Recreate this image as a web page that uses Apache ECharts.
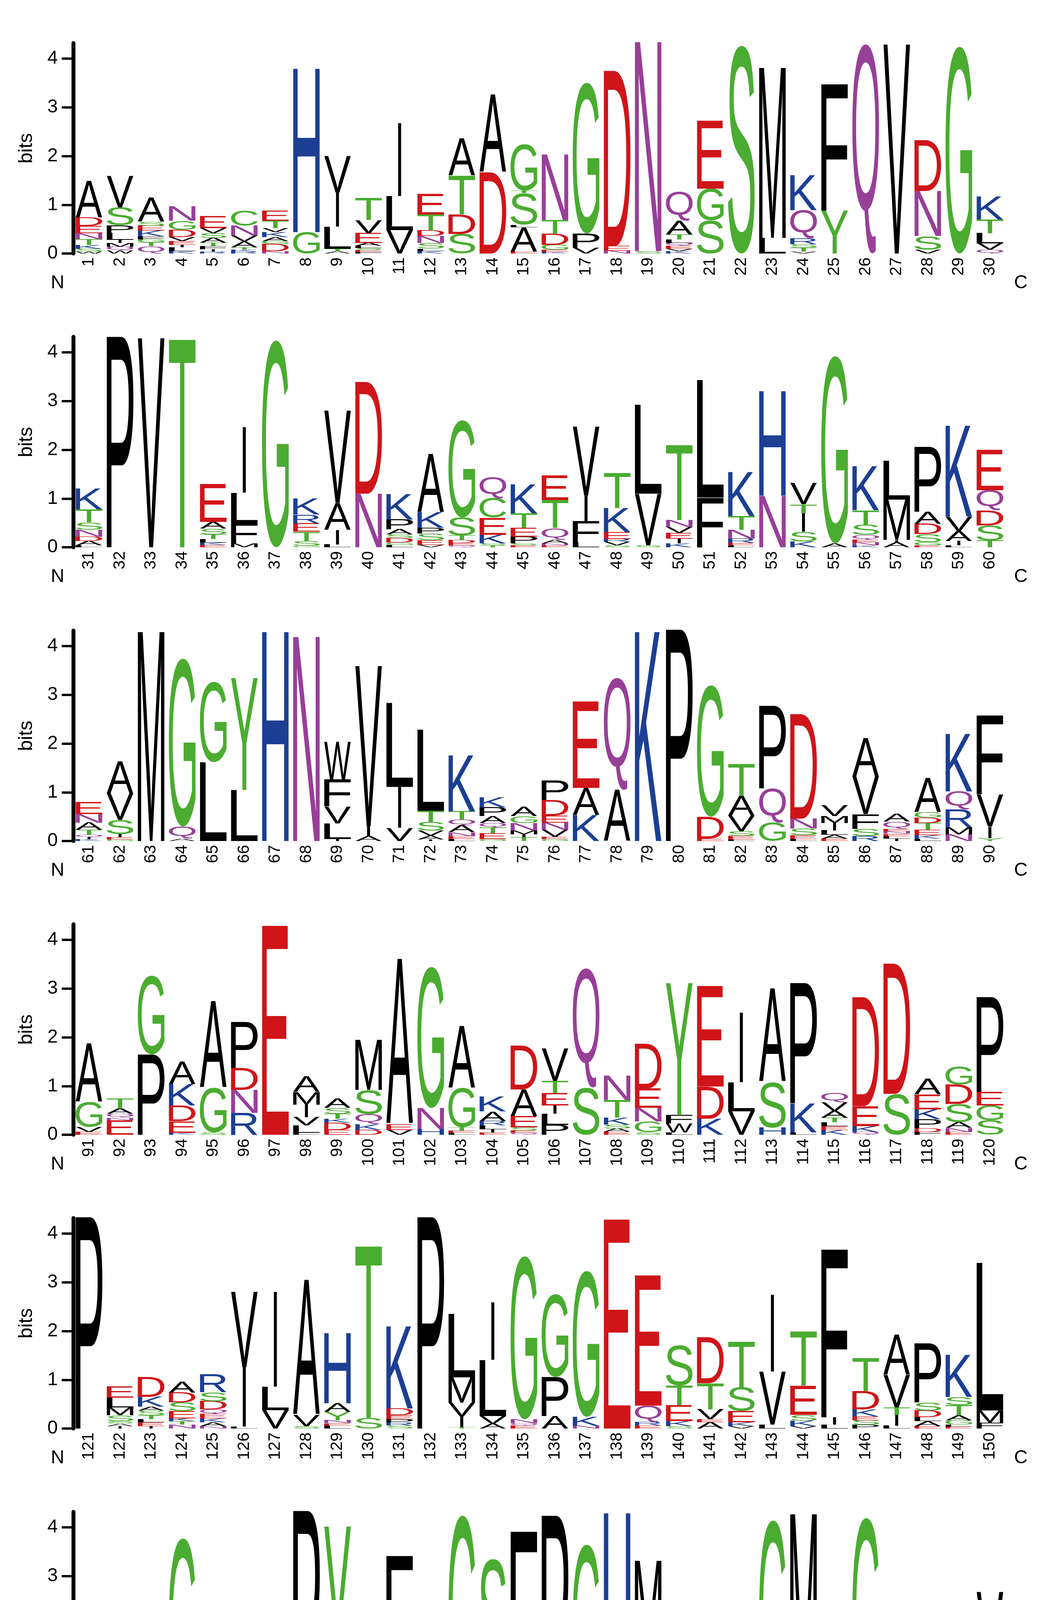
<!DOCTYPE html>
<html><head><meta charset="utf-8">
<script src="https://cdn.jsdelivr.net/npm/echarts@6/dist/echarts.min.js"></script>
<style>html,body{margin:0;padding:0;background:#fff}#c{width:2710px;height:5359px}</style>
</head><body><div id="c"></div>
<script>
// Each position: letters from bottom to top, "Letter" + height in bits
const row1 = ["W.04 S.06 K.08 T.12 N.12 E.15 D.17 A.75","W.06 Q.08 M.08 I.06 L.14 P.16 S.37 V.65","Q.15 T.08 G.06 F.06 K.12 E.1 S.08 A.5","K.05 L.08 I.05 E.08 V.08 D.15 G.18 N.3","R.04 I.05 F.06 T.07 A.1 S.1 V.1 E.25","R.04 K.04 T.05 A.12 V.12 N.2 C.3","N.05 D.15 G.06 A.08 K.1 V.08 T.15 E.2","G.44 H3.36","A.05 T.05 L.45 I.7 V.75","F.03 E.04 S.04 L.05 A.06 E.2 V.27 T.45","V.48 L.7 I1.5","K.05 L.05 S.12 N.14 D.12 T.32 E.42","S.4 D.4 T.8 A.77","D1.67 A1.6","E.04 A.5 L.05 S.65 T.05 G.95","K.03 E.05 G.1 D.23 T.28 N1.35","V.12 P.29 G3.1","N.06 E.1 D3.6","S.05 N4.3","K.05 V.05 E.06 Q.06 L.07 T.1 A.28 Q.6","S.68 G.65 E1.4","S4.3","L.32 M3.5","V.04 T.08 S.07 R.12 Q.58 K.72","Y.88 F2.6","Q4.3","V4.3","V.08 S.28 N.92 D1.05","G4.25","Q.08 V.13 L.21 T.28 K.47"];
const row2 = ["L.04 A.09 D.09 N.14 S.15 T.27 K.43","P4.33","V4.3","T4.3","E.05 K.05 L.07 T.09 S.12 A.14 E.78","M.08 F.41 L.63 I1.35","G4.25","G.03 S.09 T.2 E.17 R.18 K.33","L.06 I.3 A.55 V1.9","N1.1 D2.3","L.05 G.05 D.09 S.07 A.11 P.2 K.52","V.05 E.09 S.14 P.12 K.32 A1.2","Q.04 E.05 D.06 T.09 S.37 G2.0","T.04 S.04 K.18 E.35 C.4 Q.43","E.04 S.04 P.14 E.18 T.3 K.6","E.04 N.04 A.07 Q.24 T.58 E.5","L.1 F.44 I.52 V1.42","S.04 V.07 R.06 E.14 K.49 T.72","S.04 V1.06 L1.83","K.08 I.1 E.12 V.12 N.14 T1.55","F1.02 L2.42","L.04 E.05 R.09 N.18 T.28 K.9","N1.06 H2.15","K.12 S.2 I.38 T.18 V.44","A.08 G3.85","K.04 N.06 E.06 Q.09 S.21 T.3 K.9","A.1 I.05 M.83 L.8","E.04 G.06 S.17 D.21 A.25 P1.33","L.04 I.09 A.21 V.29 K1.87","T.14 S.31 D.31 Q.41 E.83"];
const row3 = ["K.04 I.04 Q.05 T.1 A.15 N.17 E.25","G.03 E.05 I.06 S.29 V.54 A.66","M4.3","A.05 Q.25 G3.45","L1.62 G1.65","L1.05 Y2.3","H4.3","N4.2","I.04 L.32 V.35 F.55 W.78","A.1 I.2 V3.3","V.27 I.84 L1.73","I.03 A.08 V.1 S.18 T.23 L1.67","L.04 E.06 N.08 A.14 Q.12 T.17 K1.15","G.04 E.12 T.12 Q.09 A.14 P.18 K.2","T.08 I.06 M.08 N.15 G.14 A.19","G.04 E.05 V.14 N.15 E.14 D.32 P.4","K.53 A.56 E1.78","A1.05 Q2.3","K4.3","P4.35","E.05 D.45 G2.7","L.03 E.07 S.1 V.32 A.41 T.65","G.38 Q.7 P1.7","L.04 E.08 S.14 N.2 D2.15","E.05 A.08 L.09 I.15 M.14 V.22","R.1 S.15 F.3 V.77 A.8","I.05 L.05 E.05 N.05 E.05 Q.15 A.16","L.05 K.07 E.11 T.14 D.11 G.12 A.7","N.14 M.14 R.37 Q.37 K1.18","Y.06 I.24 V.66 F1.62"];
const row4 = ["E.06 V.1 G.52 A1.2","E.3 N.05 Q.08 A.11 T.21","P1.65 G1.62","K.04 E.24 D.32 K.44 A.46","S.05 G.92 A1.78","R.45 N.47 D.45 P.94","E4.3","L.04 L.15 V.17 I.26 M.26 A.32","E.1 D.15 K.08 T.1 S.12 A.2","D.1 K.12 Q.21 S.49 M1.03","V.1 E.12 A3.4","H.12 N.43 G2.9","L.04 E.05 T.06 G.81 A1.27","E.05 I.06 L.08 R.09 A.2 K.31","Q.04 E.05 S.06 E.23 A.55 D.9","P.2 L.23 I.17 E.26 T.25 V.67","S.97 Q2.45","E.06 A.07 S.08 K.14 T.36 N.5","S.05 G.22 N.28 E.4 D.92","L.05 W.18 F.17 Y2.72","K.33 D.66 E2.07","V.48 L.6 I1.43","H.15 S.94 A1.92","L.05 K.6 P2.47","K.1 E.08 L.08 T.09 A.14 V.17 Q.2","Q.06 K.12 E.41 D2.24","S.84 D2.68","F.06 D.08 P.18 K.2 E.31 A.32","E.06 N.08 A.12 S.37 D.4 G.37","S.3 G.3 E.28 P1.95"];
const row5 = ["P4.35","I.05 A.05 S.05 S.12 M.16 L.2 E.23","I.05 E.08 L.06 T.08 S.1 A.08 K.2 D.41","N.08 T.07 K.06 E.15 S.18 D.2 A.23","N.05 A.08 K.08 E.09 Q.09 D.17 S.18 R.37","L.04 I1.22 V1.55","V.38 L.48 I1.95","S.05 V.23 A2.78","L.06 E.05 N.06 Y.17 A.18 H1.44","S.22 T3.55","S.06 R.06 P.07 E.08 D.14 K1.69","P4.35","T.03 I.22 V.28 M.52 L1.3","A.1 V.16 L1.15 I1.18","E.06 Q.05 N.08 G3.35","A.26 P.8 G1.7","N.06 K.18 G3.0","E4.3","E.06 R.07 Q.34 E2.68","S.05 K.1 E.33 T.4 S.83","A.13 E.06 V.2 T.54 D.94","V.05 K.08 E.23 S.49 T.94","L.08 V1.09 I1.58","V.05 K.11 S.12 E.6 T1.12","L.08 I.15 F3.45","P.08 S.09 E.08 K.14 D.38 T.68","L.06 I.22 T.15 V.67 A.83","E.05 A.1 L.08 D.14 S.17 P1.21","E.04 L.04 G.09 A.1 T.21 S.17 K.86","F.12 M.25 L3.04"];
const row6 = ["Q.06 E.04 T.1 K.26 A.41 E.55","T.06 L.1 P.33 K.58 A.66","L.04 K.05 E.06 N.18 S.28 A.29 D.8","A.08 G3.7","A.15 E.2 K.21 Q.21 G.92","G.05 K.15 V.09 D.18 E.28 T.43","G.15 E.06 Q.05 K.17 A.17 S.2 D.28","P4.35","L.05 Y3.98","S.08 E.06 P.08 T.14 D.2","Y.8 F2.62","V.25 F.38 L.54 I.8","C4.25","T1.07 S2.3","Y.12 F3.8","P4.25","A.35 G3.3","H4.3","L1.4 M1.92","A.06 V.11 S.09 W.12 F.25 Y.54","L.06 Q.09 S.2 G.33 A.72","A.04 T.1 V.15 I.2 L.37 M.41","G4.15","M4.28","E.1 N.11 R.26 Q.29 K1.24","G4.2","E.06 T.08 I.08 E.08 V.2 T.28 K.6","V.15 M.17 I.6 F.49 L.72","S.04 K.14 T.32 V.37 I.78","I.05 F.1 A.25 L.38 V1.9"];
const row7 = ["T.06 S.1 G.1 K.6 E.8"];
const rows = [row1,row2,row3,row4,row5,row6,row7];
const yTicks = [0,1,2,3,4];

const LETTERS = "ACDEFGHIKLMNPQRSTVWY";
const COL = {G:'#4aac30',S:'#4aac30',T:'#4aac30',Y:'#4aac30',C:'#4aac30',K:'#1c3f94',R:'#1c3f94',H:'#1c3f94',D:'#cf1519',E:'#cf1519',N:'#983f98',Q:'#983f98'};
const FONT = 'normal 200px "Liberation Sans"';
const cv = document.createElement('canvas'); const ctx = cv.getContext('2d');
const mcache = {};
function metrics(ch){
  if(mcache[ch]) return mcache[ch];
  ctx.font = FONT; ctx.textAlign='left'; ctx.textBaseline='middle';
  const m = ctx.measureText(ch);
  const r = {l:m.actualBoundingBoxLeft, w:m.actualBoundingBoxLeft+m.actualBoundingBoxRight, a:m.actualBoundingBoxAscent, h:m.actualBoundingBoxAscent+m.actualBoundingBoxDescent};
  mcache[ch]=r; return r;
}
function renderLogo(params, api){
  const x=api.value(0), b=api.value(1), t=api.value(2), ch=LETTERS[api.value(3)];
  const p0=api.coord([x,b]), p1=api.coord([x,t]);
  let w=api.size([1,0])[0]*0.86; const h=p0[1]-p1[1];
  if(h<0.5) return null;
  if(ch==='I') w = w*0.12;
  const m=metrics(ch), sx=w/m.w, sy=h/m.h;
  return {type:'text', x:p0[0]-w/2+m.l*sx, y:p1[1]+m.a*sy, scaleX:sx, scaleY:sy,
    style:{text:ch, font:FONT, fill:COL[ch]||'#000', align:'left', verticalAlign:'middle', x:0, y:0}};
}
const LEFT=188, PITCH=79.5, BIT=124.7, Y0=649, ROWSTEP=752, YMAX=4.32;
const grid=[], xAxis=[], yAxis=[], series=[], graphic=[];
let pos=1;
rows.forEach((row,k)=>{
  const y0=Y0+ROWSTEP*k;
  grid.push({left:LEFT, width:PITCH*30, top:y0-YMAX*BIT, height:YMAX*BIT});
  const cats=[]; const data=[];
  for(let i=0;i<30;i++){ cats.push(i<row.length? String(pos+i):''); }
  row.forEach((s,i)=>{
    let cum=0;
    s.trim().split(/\s+/).forEach(tok=>{
      const L=tok[0], v=parseFloat(tok.slice(1));
      data.push([i,cum,cum+v,LETTERS.indexOf(L)]); cum+=v;
    });
  });
  xAxis.push({type:'category', gridIndex:k, data:cats, boundaryGap:true, axisLine:{show:false}, axisTick:{show:false},
    axisLabel:{rotate:90, fontSize:42, fontFamily:'Liberation Sans Narrow, Liberation Sans', color:'#000', margin:10, interval:0}});
  yAxis.push({type:'value', gridIndex:k, min:0, max:YMAX, interval:1, splitLine:{show:false},
    axisLine:{show:true, lineStyle:{color:'#000', width:10}},
    axisTick:{show:true, length:30, lineStyle:{color:'#000', width:6}, customValues:yTicks},
    axisLabel:{fontSize:48, fontFamily:'Liberation Sans Narrow, Liberation Sans', color:'#000', margin:40, customValues:yTicks},
    name:'bits', nameLocation:'middle', nameRotate:90, nameGap:95, nameTextStyle:{fontSize:50, fontFamily:'Liberation Sans', color:'#000'}});
  series.push({type:'custom', xAxisIndex:k, yAxisIndex:k, renderItem:renderLogo, data:data, silent:true, animation:false});
  graphic.push({type:'text', left:130, top:y0+52, style:{text:'N', font:'48px "Liberation Sans"', fill:'#000'}});
  graphic.push({type:'text', left:LEFT+PITCH*row.length+22, top:y0+52, style:{text:'C', font:'48px "Liberation Sans"', fill:'#000'}});
  pos+=row.length;
});
const chart=echarts.init(document.getElementById('c'),null,{renderer:'canvas'});
chart.setOption({animation:false, backgroundColor:'#fff', grid, xAxis, yAxis, series, graphic});
</script></body></html>
